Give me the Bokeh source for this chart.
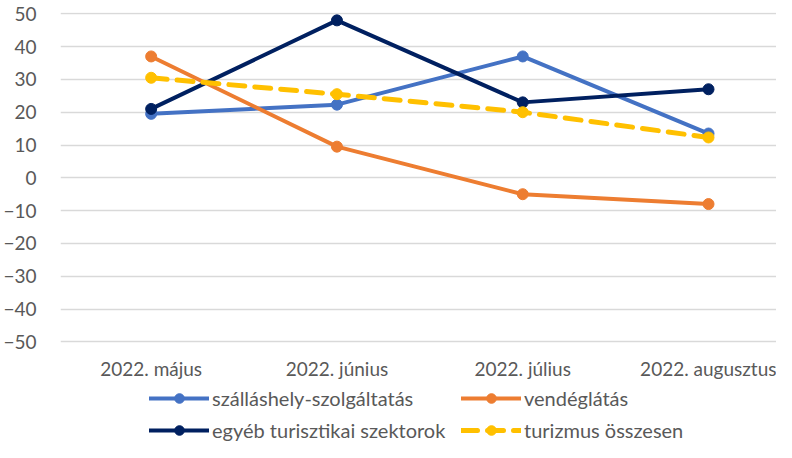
from bokeh.plotting import figure
from bokeh.models import Range1d, FixedTicker, Legend, LegendItem, ColumnDataSource
from bokeh.embed import file_html
from bokeh.resources import INLINE

categories = ["2022. május", "2022. június", "2022. július", "2022. augusztus"]
szallas = [19.5, 22.3, 37.0, 13.5]
vendeg = [37.0, 9.5, -5.0, -8.0]
egyeb = [21.0, 48.0, 23.0, 27.0]
turizmus = [30.5, 25.5, 20.0, 12.3]
y_ticks = [-50, -40, -30, -20, -10, 0, 10, 20, 30, 40, 50]

xpos = [i + 0.5 for i in range(len(categories))]
FONT = "Lato"
TXT = "#595959"

p = figure(width=776, height=442, output_backend="svg", toolbar_location=None,
           x_range=Range1d(0.012, 3.866), y_range=Range1d(-80.7, 50.4),
           min_border_left=49, min_border_right=0, min_border_top=12, min_border_bottom=0)
p.outline_line_color = None
p.xgrid.grid_line_color = None
p.ygrid.grid_line_color = "#D9D9D9"
p.ygrid.grid_line_width = 1.5
p.ygrid.ticker = FixedTicker(ticks=y_ticks)

p.yaxis.ticker = FixedTicker(ticks=y_ticks)
p.xaxis.ticker = FixedTicker(ticks=xpos)
p.xaxis.fixed_location = -50.4
p.xaxis.major_label_overrides = {x: c for x, c in zip(xpos, categories)}
for ax in (p.xaxis, p.yaxis):
    ax.axis_line_color = None
    ax.major_tick_line_color = None
    ax.minor_tick_line_color = None
    ax.major_label_text_font = FONT
    ax.major_label_text_font_size = "19px"
    ax.major_label_text_color = TXT
p.yaxis.major_label_standoff = 18
p.xaxis.major_label_standoff = 8

series = [
    ("szálláshely-szolgáltatás", szallas, "#4472C4", "solid"),
    ("vendéglátás", vendeg, "#ED7D31", "solid"),
    ("egyéb turisztikai szektorok", egyeb, "#002060", "solid"),
    ("turizmus összesen", turizmus, "#FFC000", "16 10"),
]
items = {}
for name, vals, col, dash in series:
    src = ColumnDataSource(dict(x=xpos, y=vals))
    lw = 5 if dash != "solid" else 4
    l = p.line("x", "y", source=src, line_color=col, line_width=lw, line_dash=dash, line_cap="round")
    c = p.scatter("x", "y", source=src, size=11, fill_color=col, line_color=col)
    items[name] = [l, c]

order = ["szálláshely-szolgáltatás", "vendéglátás", "egyéb turisztikai szektorok", "turizmus összesen"]
legend = Legend(items=[LegendItem(label=n, renderers=items[n]) for n in order],
                ncols=2, location=(89, 0), orientation="horizontal")
legend.glyph_width = 60
legend.glyph_height = 24
legend.label_height = 24
legend.label_width = 241
legend.label_standoff = 3
legend.spacing = 8
legend.padding = 0
legend.margin = 0
legend.border_line_color = None
legend.background_fill_alpha = 0
legend.label_text_font = FONT
legend.label_text_font_size = "20px"
legend.label_text_color = TXT
p.add_layout(legend, "center")

open("out.html", "w").write(file_html(p, INLINE))
